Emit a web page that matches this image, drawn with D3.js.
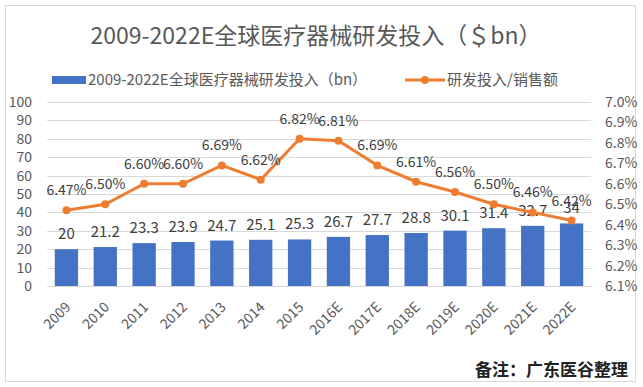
<!DOCTYPE html>
<html>
<head>
<meta charset="utf-8">
<script src="https://cdn.jsdelivr.net/npm/d3@7"></script>
<style>
  body { margin: 0; background: #fff; }
  text { font-family: "Noto Sans CJK SC", "Noto Sans", sans-serif; }
</style>
</head>
<body>
<svg id="chart"></svg>
<script>
// data
var years = ["2009","2010","2011","2012","2013","2014","2015","2016E","2017E","2018E","2019E","2020E","2021E","2022E"];
var spend = [20, 21.2, 23.3, 23.9, 24.7, 25.1, 25.3, 26.7, 27.7, 28.8, 30.1, 31.4, 32.7, 34];
var ratio = [6.47, 6.50, 6.60, 6.60, 6.69, 6.62, 6.82, 6.81, 6.69, 6.61, 6.56, 6.50, 6.46, 6.42];
var leftTicks = [0,10,20,30,40,50,60,70,80,90,100];
var rightTicks = [6.1,6.2,6.3,6.4,6.5,6.6,6.7,6.8,6.9,7.0];

var W = 643, H = 387;
var margin = {top: 102, left: 47, right: 52, bottom: 101};
var width = W - margin.left - margin.right,
    height = H - margin.top - margin.bottom;

var svg = d3.select("#chart").attr("width", W).attr("height", H);

// outer frame
svg.append("rect")
  .attr("x", 5.5).attr("y", 5.5)
  .attr("width", 630).attr("height", 376)
  .attr("fill", "none").attr("stroke", "#d9d9d9");

svg.append("text")
  .attr("x", 316).attr("y", 44)
  .attr("text-anchor", "middle")
  .attr("fill", "#595959")
  .style("font-size", "23px")
  .text("2009-2022E全球医疗器械研发投入（＄bn）");

var g = svg.append("g").attr("transform", "translate(" + margin.left + "," + margin.top + ")");

var x = d3.scaleBand().domain(years).range([0, width]).paddingInner(0.4).paddingOuter(0.2);
var y = d3.scaleLinear().domain([0, 100]).range([height, 0]);
var y2 = d3.scaleLinear().domain([6.1, 7.0]).range([height, 0]);

// gridlines
g.selectAll(".grid").data(leftTicks).enter().append("line")
  .attr("x1", 0).attr("x2", width)
  .attr("y1", function(d) { return Math.round(y(d)) + 0.5; })
  .attr("y2", function(d) { return Math.round(y(d)) + 0.5; })
  .attr("stroke", "#d9d9d9");

var yAxis = g.append("g")
  .call(d3.axisLeft(y).tickValues(leftTicks).tickSize(0).tickPadding(15));
yAxis.select(".domain").remove();
yAxis.selectAll("text").attr("fill", "#595959").style("font-size", "14px");

var y2Axis = g.append("g")
  .attr("transform", "translate(" + width + ",0)")
  .call(d3.axisRight(y2).tickValues(rightTicks).tickSize(0).tickPadding(14)
    .tickFormat(function(d) { return d.toFixed(1) + "%"; }));
y2Axis.select(".domain").remove();
y2Axis.selectAll("text").attr("fill", "#595959").style("font-size", "14px");

var xAxis = g.append("g")
  .attr("transform", "translate(0," + height + ")")
  .call(d3.axisBottom(x).tickSize(0).tickPadding(0));
xAxis.select(".domain").attr("stroke", "#d9d9d9");
xAxis.selectAll("text")
  .attr("fill", "#595959").style("font-size", "14px")
  .attr("text-anchor", "end")
  .attr("dy", 0)
  .attr("transform", "translate(5,22) rotate(-45)");

// bars
g.selectAll(".bar").data(spend).enter().append("rect")
  .attr("x", function(d, i) { return x(years[i]); })
  .attr("width", x.bandwidth())
  .attr("y", function(d) { return y(d); })
  .attr("height", function(d) { return height - y(d); })
  .attr("fill", "#4472c4");

g.selectAll(".barlab").data(spend).enter().append("text")
  .attr("x", function(d, i) { return x(years[i]) + x.bandwidth() / 2; })
  .attr("y", function(d) { return y(d) - 10; })
  .attr("text-anchor", "middle")
  .attr("fill", "#404040")
  .style("font-size", "15px")
  .text(function(d) { return d; });

// ratio line
var line = d3.line()
  .x(function(d, i) { return x(years[i]) + x.bandwidth() / 2; })
  .y(function(d) { return y2(d); });

g.append("path").datum(ratio)
  .attr("d", line)
  .attr("fill", "none")
  .attr("stroke", "#ed7d31")
  .attr("stroke-width", 3);

g.selectAll(".dot").data(ratio).enter().append("circle")
  .attr("cx", function(d, i) { return x(years[i]) + x.bandwidth() / 2; })
  .attr("cy", function(d) { return y2(d); })
  .attr("r", 4)
  .attr("fill", "#ed7d31");

g.selectAll(".linelab").data(ratio).enter().append("text")
  .attr("x", function(d, i) { return x(years[i]) + x.bandwidth() / 2; })
  .attr("y", function(d) { return y2(d) - 15; })
  .attr("text-anchor", "middle")
  .attr("fill", "#404040")
  .style("font-size", "14px")
  .text(function(d) { return d.toFixed(2) + "%"; });

// legend
var leg = svg.append("g").attr("transform", "translate(52,80)");
leg.append("rect").attr("x", 0).attr("y", -4).attr("width", 34).attr("height", 8).attr("fill", "#4472c4");
leg.append("text").attr("x", 36).attr("y", 5).attr("fill", "#595959").style("font-size", "15px")
  .text("2009-2022E全球医疗器械研发投入（bn）");
leg.append("line").attr("x1", 353).attr("x2", 393).attr("y1", 0).attr("y2", 0)
  .attr("stroke", "#ed7d31").attr("stroke-width", 3);
leg.append("circle").attr("cx", 373).attr("cy", 0).attr("r", 4).attr("fill", "#ed7d31");
leg.append("text").attr("x", 395).attr("y", 5).attr("fill", "#595959").style("font-size", "15px")
  .text("研发投入/销售额");

svg.append("text")
  .attr("x", 628).attr("y", 376)
  .attr("text-anchor", "end")
  .attr("fill", "#222")
  .style("font-size", "17px")
  .style("font-weight", "bold")
  .text("备注：广东医谷整理");
</script>
</body>
</html>
